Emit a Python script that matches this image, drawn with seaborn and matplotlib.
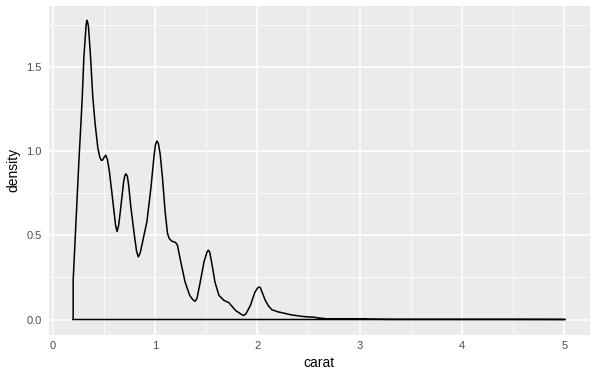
import numpy as np
import pandas as pd
import matplotlib
matplotlib.use("Agg")
import matplotlib.pyplot as plt
import seaborn as sns
from matplotlib.ticker import MultipleLocator

# Density curve of carat
carat = [0.200, 0.256, 0.272, 0.289, 0.305, 0.321, 0.327, 0.334, 0.342, 0.350,
         0.370, 0.392, 0.415, 0.441, 0.460, 0.474, 0.486, 0.505, 0.519, 0.535,
         0.554, 0.577, 0.603, 0.615, 0.629, 0.645, 0.661, 0.694, 0.705, 0.717,
         0.730, 0.742, 0.765, 0.798, 0.820, 0.837, 0.855, 0.879, 0.921, 0.960,
         0.992, 1.005, 1.018, 1.033, 1.051, 1.073, 1.099, 1.122, 1.138, 1.165,
         1.200, 1.219, 1.252, 1.294, 1.339, 1.370, 1.391, 1.410, 1.436, 1.479,
         1.508, 1.521, 1.535, 1.553, 1.586, 1.625, 1.673, 1.722, 1.787, 1.845,
         1.868, 1.890, 1.933, 1.975, 2.000, 2.014, 2.030, 2.045, 2.078, 2.110,
         2.143, 2.200, 2.257, 2.330, 2.419, 2.480, 2.550, 2.620, 2.680, 2.800,
         2.900, 3.000, 3.100, 3.300, 3.600, 4.000, 4.500, 5.010]
density = [0.230, 0.940, 1.120, 1.320, 1.560, 1.700, 1.750, 1.777, 1.765, 1.737,
           1.560, 1.320, 1.160, 1.020, 0.965, 0.946, 0.946, 0.965, 0.976, 0.950,
           0.880, 0.761, 0.622, 0.560, 0.522, 0.560, 0.641, 0.821, 0.855, 0.865,
           0.850, 0.800, 0.662, 0.502, 0.405, 0.372, 0.395, 0.462, 0.582, 0.781,
           0.980, 1.040, 1.060, 1.045, 0.980, 0.841, 0.641, 0.512, 0.482, 0.465,
           0.458, 0.442, 0.342, 0.223, 0.143, 0.118, 0.108, 0.125, 0.203, 0.342,
           0.400, 0.412, 0.400, 0.342, 0.223, 0.143, 0.114, 0.100, 0.054, 0.030,
           0.024, 0.035, 0.084, 0.160, 0.185, 0.193, 0.190, 0.165, 0.114, 0.080,
           0.058, 0.046, 0.038, 0.028, 0.020, 0.016, 0.014, 0.008, 0.004, 0.003,
           0.003, 0.004, 0.002, 0.001, 0.001, 0.001, 0.001, 0.0005]

x_ticks = [0, 1, 2, 3, 4, 5]
y_ticks = [0.0, 0.5, 1.0, 1.5]
y_tick_labels = ["0.0", "0.5", "1.0", "1.5"]

# closed outline like ggplot's geom_density polygon
px = [carat[0]] + carat + [carat[-1], carat[0]]
py = [0.0] + density + [0.0, 0.0]
df = pd.DataFrame({"carat": px, "density": py})

sns.set_theme(style="darkgrid")
plt.rcParams["font.family"] = ["Liberation Sans", "DejaVu Sans"]

fig = plt.figure(figsize=(6, 3.75), dpi=100)
ax = fig.add_axes([0.081, 0.108, 0.902, 0.877])
ax.set_facecolor("#EBEBEB")

sns.lineplot(data=df, x="carat", y="density", sort=False, estimator=None,
             color="black", linewidth=1.1, ax=ax)
for ln in ax.get_lines():
    ln.set_solid_joinstyle("round")

ax.set_xlim(-0.04, 5.25)
ax.set_ylim(-0.089, 1.864)
ax.set_xticks(x_ticks)
ax.set_yticks(y_ticks)
ax.set_yticklabels(y_tick_labels)
ax.xaxis.set_minor_locator(MultipleLocator(0.5))
ax.yaxis.set_minor_locator(MultipleLocator(0.25))
ax.grid(which="major", color="white", linewidth=1.1)
ax.grid(which="minor", color="white", linewidth=0.55)
ax.set_axisbelow(True)
for s in ax.spines.values():
    s.set_visible(False)
ax.tick_params(axis="both", which="major", length=3, width=0.8, color="#333333",
               labelsize=8, labelcolor="#4D4D4D", pad=2)
ax.tick_params(which="minor", length=0)
ax.set_xlabel("carat", fontsize=10, color="black", labelpad=3)
ax.set_ylabel("density", fontsize=10, color="black", labelpad=4)

fig.savefig("out.png", dpi=100, facecolor="white")
